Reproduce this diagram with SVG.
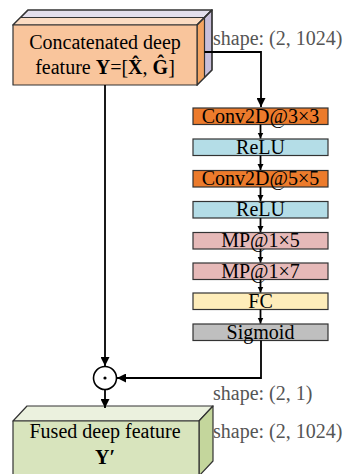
<svg xmlns="http://www.w3.org/2000/svg" width="343" height="474" viewBox="0 0 343 474">
  <defs>
    <style>
      text { font-family: "Liberation Serif", "Times New Roman", serif; fill: #000; }
      .lbl { font-size: 20px; text-anchor: middle; }
      .shape { font-size: 20px; fill: #555; }
      .b { font-weight: bold; }
      .edge { stroke: #333; stroke-width: 1.2; stroke-linejoin: round; }
      .blk { stroke: #333; stroke-width: 1.2; }
      .conv { fill: #EC7B2C; }
      .relu { fill: #B4DDE7; }
      .mp { fill: #E6B9B8; }
      .fc { fill: #FEEDBA; }
      .sig { fill: #BFBFBF; }
      .wire { fill: none; stroke: #000; stroke-width: 1.8; }
    </style>
    <marker id="head" viewBox="0 0 10 10" refX="10" refY="5" markerWidth="9" markerHeight="9" markerUnits="userSpaceOnUse" orient="auto">
      <path d="M0,0 L10,5 L0,10 Z" fill="#000"/>
    </marker>
    <marker id="headS" viewBox="0 0 10 10" refX="10" refY="5" markerWidth="6" markerHeight="7" markerUnits="userSpaceOnUse" orient="auto">
      <path d="M0,0 L10,5 L0,10 Z" fill="#000"/>
    </marker>
  </defs>

  <!-- input tensor: stacked prism -->
  <g id="concat">
    <polygon class="edge" fill="#E3DFEC" points="13,25 197,25 212,10 28,10"/>
    <polygon fill="#FBDCC3" points="13,25 197,25 204.5,17.5 20.5,17.5"/>
    <polygon class="edge" fill="#C8BFDA" points="197,25 212,10 212,70 197,85"/>
    <polygon fill="#F3A462" points="197,25 204.5,17.5 204.5,77.5 197,85"/>
    <line class="edge" x1="204.5" y1="17.5" x2="204.5" y2="77.5"/>
    <line class="edge" x1="20.5" y1="17.5" x2="204.5" y2="17.5"/>
    <polygon class="edge" fill="none" points="13,25 197,25 212,10 28,10"/>
    <polygon class="edge" fill="none" points="197,25 212,10 212,70 197,85"/>
    <rect class="edge" x="13" y="25" width="184" height="60" fill="#F9C59C"/>
    <text class="lbl" x="105" y="49">Concatenated deep</text>
    <text class="lbl" x="105" y="74">feature <tspan class="b">Y</tspan>=[<tspan class="b">X̂</tspan>, <tspan class="b">Ĝ</tspan>]</text>
  </g>
  <text class="shape" x="213" y="45">shape: (2, 1024)</text>

  <!-- attention branch -->
  <g id="conv1"><rect class="blk conv" x="193" y="108" width="135" height="16.5"/><text class="lbl" x="260.5" y="122.5">Conv2D@3×3</text></g>
  <g id="relu1"><rect class="blk relu" x="193" y="139" width="135" height="16.5"/><text class="lbl" x="260.5" y="153.5">ReLU</text></g>
  <g id="conv2"><rect class="blk conv" x="193" y="170.5" width="135" height="16.5"/><text class="lbl" x="260.5" y="185">Conv2D@5×5</text></g>
  <g id="relu2"><rect class="blk relu" x="193" y="201.5" width="135" height="16.5"/><text class="lbl" x="260.5" y="216">ReLU</text></g>
  <g id="mp1"><rect class="blk mp" x="193" y="232.5" width="135" height="16.5"/><text class="lbl" x="260.5" y="247">MP@1×5</text></g>
  <g id="mp2"><rect class="blk mp" x="193" y="263" width="135" height="16.5"/><text class="lbl" x="260.5" y="277.5">MP@1×7</text></g>
  <g id="fc"><rect class="blk fc" x="193" y="293" width="135" height="16.5"/><text class="lbl" x="260.5" y="307.5">FC</text></g>
  <g id="sigmoid"><rect class="blk sig" x="193" y="324" width="135" height="16.5"/><text class="lbl" x="260.5" y="338.5">Sigmoid</text></g>

  <!-- element-wise product -->
  <g id="mul">
    <circle cx="105" cy="378" r="11.5" fill="#fff" stroke="#000" stroke-width="1.6"/>
    <circle cx="105" cy="378" r="1.6" fill="#000"/>
  </g>
  <text class="shape" x="213" y="400">shape: (2, 1)</text>

  <!-- output tensor -->
  <g id="fused">
    <polygon class="edge" fill="#EBF1DE" points="13,421 199,421 213,406 27,406"/>
    <polygon class="edge" fill="#C4D69C" points="199,421 213,406 213,461 199,476"/>
    <rect class="edge" x="13" y="421" width="186" height="56" fill="#D8E4BD"/>
    <text class="lbl" x="105" y="438">Fused deep feature</text>
    <text class="lbl b" x="105" y="464">Y′</text>
  </g>
  <text class="shape" x="213" y="438">shape: (2, 1024)</text>

  <!-- connectors -->
  <g id="connectors">
    <polyline class="wire" points="204.5,52 261,52 261,107" marker-end="url(#head)"/>
    <line class="wire" x1="260.5" y1="124.5" x2="260.5" y2="138.5" stroke-width="1.4" marker-end="url(#headS)"/>
    <line class="wire" x1="260.5" y1="155.5" x2="260.5" y2="170" stroke-width="1.4" marker-end="url(#headS)"/>
    <line class="wire" x1="260.5" y1="187" x2="260.5" y2="201" stroke-width="1.4" marker-end="url(#headS)"/>
    <line class="wire" x1="260.5" y1="218" x2="260.5" y2="232" stroke-width="1.4" marker-end="url(#headS)"/>
    <line class="wire" x1="260.5" y1="249" x2="260.5" y2="262.5" stroke-width="1.4" marker-end="url(#headS)"/>
    <line class="wire" x1="260.5" y1="279.5" x2="260.5" y2="292.5" stroke-width="1.4" marker-end="url(#headS)"/>
    <line class="wire" x1="260.5" y1="309.5" x2="260.5" y2="323.5" stroke-width="1.4" marker-end="url(#headS)"/>
    <line class="wire" x1="105" y1="85" x2="105" y2="366" marker-end="url(#head)"/>
    <polyline class="wire" points="261,340.5 261,378 117,378" marker-end="url(#head)"/>
    <line class="wire" x1="105" y1="389.5" x2="105" y2="408" marker-end="url(#head)"/>
  </g>
</svg>
